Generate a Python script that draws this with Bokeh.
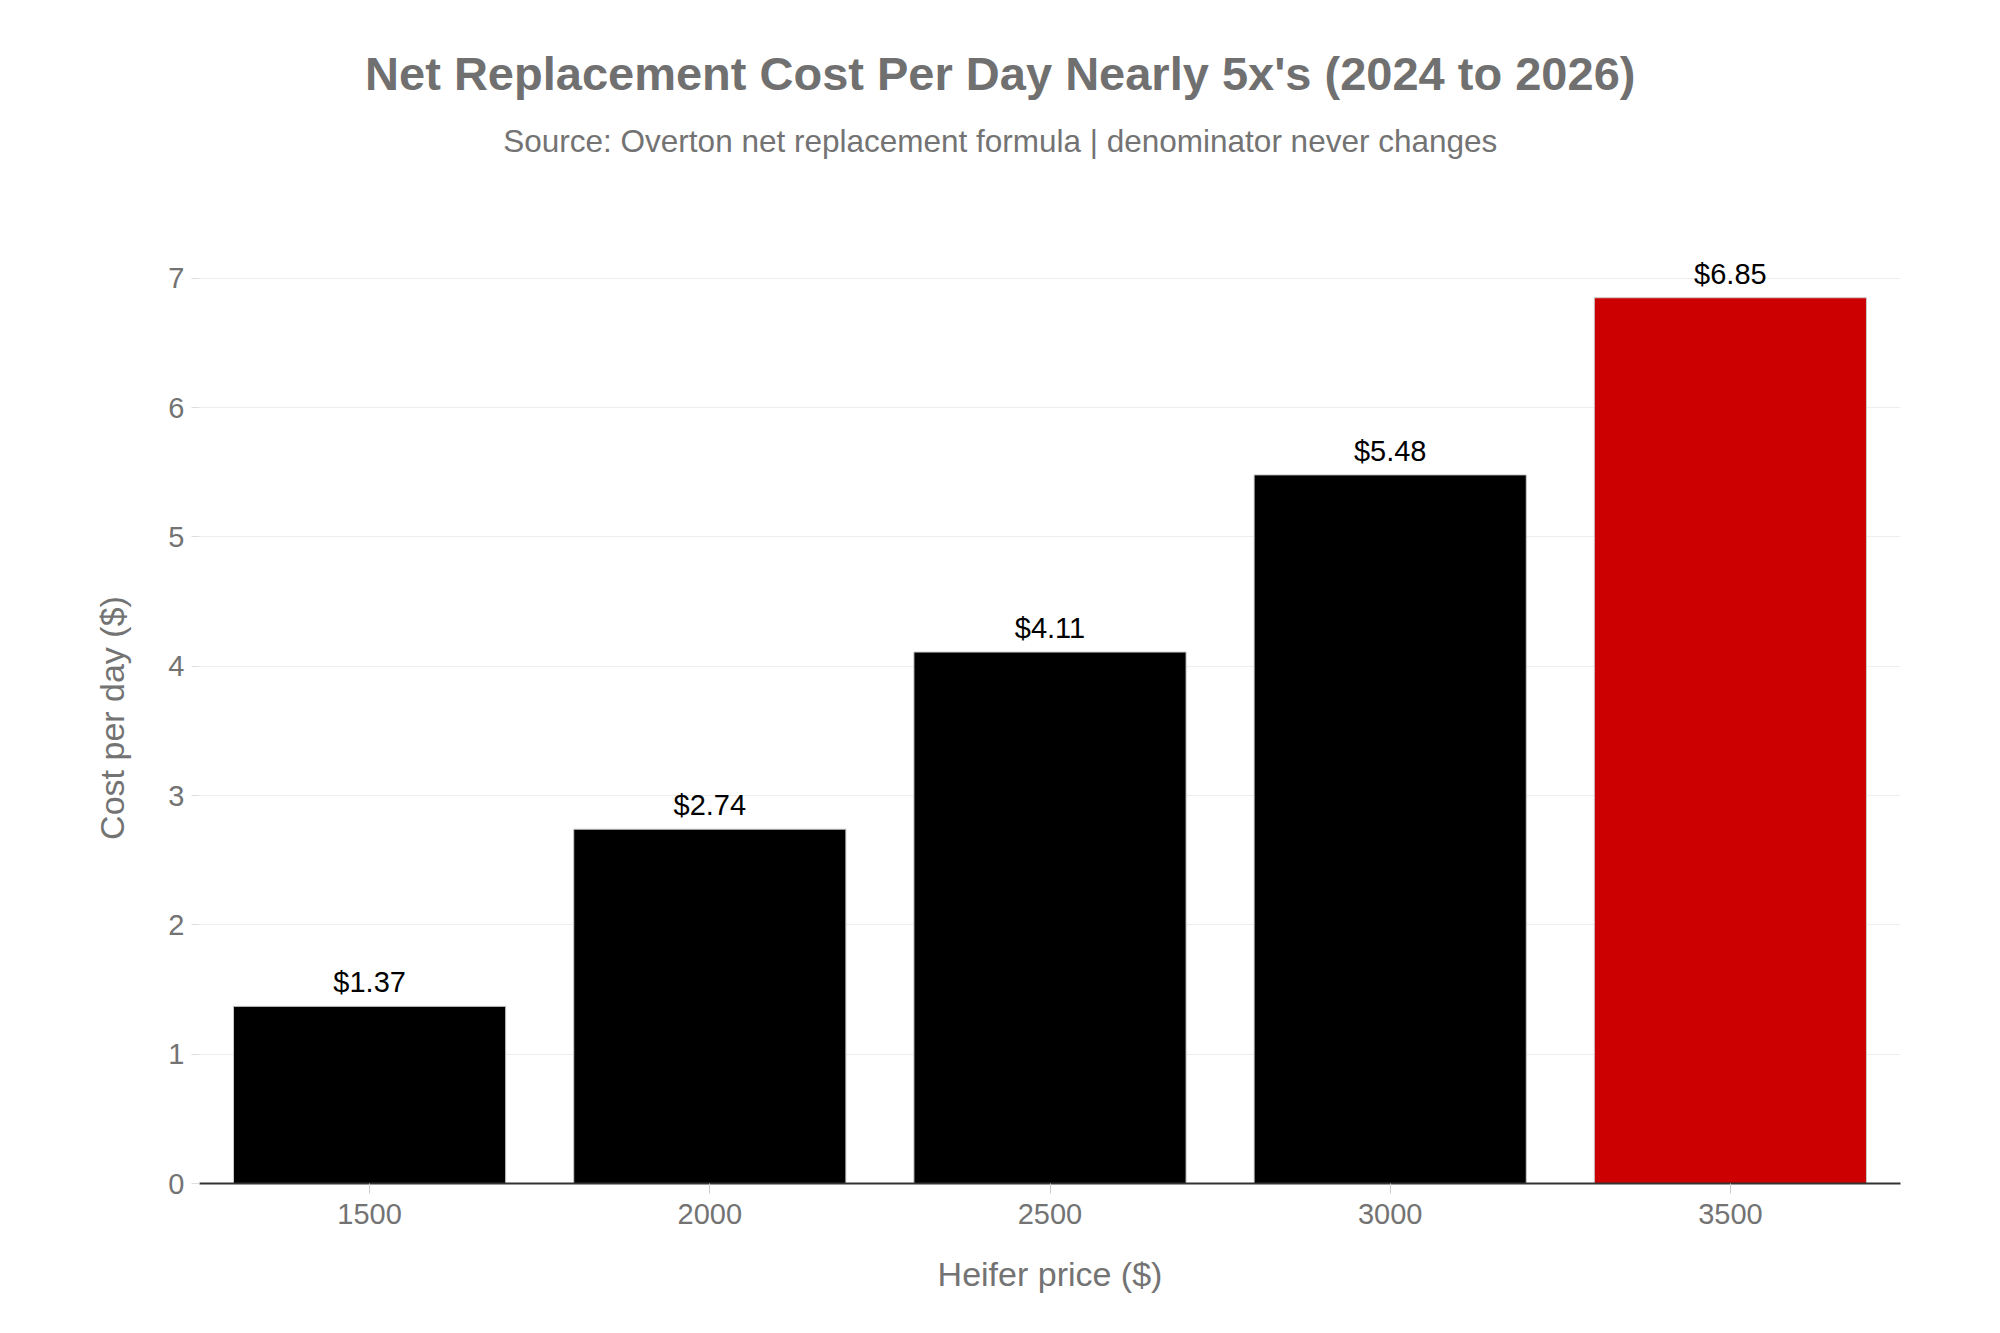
from bokeh.plotting import figure
from bokeh.layouts import column
from bokeh.models import ColumnDataSource, FactorRange, Range1d, FixedTicker
from bokeh.core.properties import value
from bokeh.embed import file_html
from bokeh.resources import INLINE

# ---- data ----
heifer_prices = ["1500", "2000", "2500", "3000", "3500"]
cost_per_day = [1.37, 2.74, 4.11, 5.48, 6.85]
bar_colors = ["#000000", "#000000", "#000000", "#000000", "#cc0000"]
y_ticks = [0, 1, 2, 3, 4, 5, 6, 7]

title_text = "Net Replacement Cost Per Day Nearly 5x's (2024 to 2026)"
subtitle_text = "Source: Overton net replacement formula | denominator never changes"

FONT = "Liberation Sans"
GRAY = "#737373"
W = 1984
HEAD_H = 200
MAIN_H = 1110

# ---- header (title + subtitle) ----
head = figure(width=W, height=HEAD_H, x_range=Range1d(0, W), y_range=Range1d(0, HEAD_H),
              min_border=0, output_backend="svg", toolbar_location=None,
              x_axis_type=None, y_axis_type=None)
head.outline_line_color = None
head.grid.visible = False
head.text(x=[934], y=[HEAD_H - 73.2], text=[title_text], text_align="center",
          text_baseline="middle", text_font=value(FONT), text_font_size="47px",
          text_font_style="bold", text_color="#707070")
head.text(x=[934], y=[HEAD_H - 140.3], text=[subtitle_text], text_align="center",
          text_baseline="middle", text_font=value(FONT), text_font_size="31.5px",
          text_color=GRAY)

# ---- main chart ----
src = ColumnDataSource(dict(
    x=heifer_prices,
    y=cost_per_day,
    color=bar_colors,
    label=[f"${v:.2f}" for v in cost_per_day],
))

p = figure(
    x_range=FactorRange(factors=heifer_prices, range_padding=0),
    y_range=Range1d(0, 7.2),
    width=W, height=MAIN_H,
    min_border_left=199, min_border_right=84,
    min_border_top=252 - HEAD_H, min_border_bottom=127,
    output_backend="svg", toolbar_location=None,
    title=None,
)
p.outline_line_color = None
p.background_fill_color = "white"
p.border_fill_color = "white"

p.vbar(x="x", top="y", width=0.8, source=src, fill_color="color",
       line_color="#c8c8c8", line_width=1)

p.text(x="x", y="y", text="label", source=src, text_align="center",
       text_baseline="alphabetic", y_offset=-24,
       text_font=value(FONT), text_font_size="29px", text_color="#000000")

# grid
p.xgrid.grid_line_color = None
p.ygrid.grid_line_color = "#eeeeee"
p.ygrid.grid_line_width = 1
p.ygrid.ticker = FixedTicker(ticks=y_ticks)

# y axis
ya = p.yaxis[0]
ya.ticker = FixedTicker(ticks=y_ticks)
ya.axis_line_color = None
ya.major_tick_line_color = "#dddddd"
ya.major_tick_out = 8
ya.major_tick_in = 0
ya.minor_tick_line_color = None
ya.major_label_text_font = FONT
ya.major_label_text_font_size = "29px"
ya.major_label_text_color = GRAY
ya.major_label_standoff = 7
ya.axis_label = "Cost per day ($)"
ya.axis_label_text_font = FONT
ya.axis_label_text_font_size = "34px"
ya.axis_label_text_font_style = "normal"
ya.axis_label_text_color = GRAY
ya.axis_label_standoff = 34

# x axis
xa = p.xaxis[0]
xa.axis_line_color = "#333333"
xa.axis_line_width = 2
xa.major_tick_line_color = "#cccccc"
xa.major_tick_out = 10
xa.major_tick_in = 0
xa.minor_tick_line_color = None
xa.major_label_text_font = FONT
xa.major_label_text_font_size = "29px"
xa.major_label_text_color = GRAY
xa.major_label_standoff = 10
xa.axis_label = "Heifer price ($)"
xa.axis_label_text_font = FONT
xa.axis_label_text_font_size = "34px"
xa.axis_label_text_font_style = "normal"
xa.axis_label_text_color = GRAY
xa.axis_label_standoff = 28

layout = column(head, p, spacing=0)
open("out.html", "w").write(file_html(layout, INLINE))
